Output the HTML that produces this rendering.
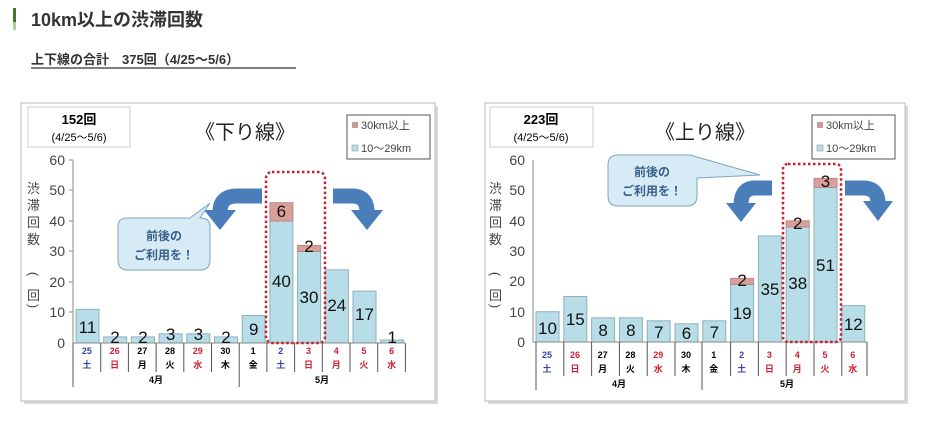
<!DOCTYPE html>
<html><head><meta charset="utf-8"><style>
body{margin:0;background:#fff;width:931px;height:427px;overflow:hidden;font-family:"Liberation Sans","Noto Sans CJK JP",sans-serif;}
</style></head><body>
<svg width="931" height="427" xmlns="http://www.w3.org/2000/svg" font-family="Liberation Sans, Noto Sans CJK JP, sans-serif">
<rect x="13" y="8" width="3" height="14" fill="#3f7a2a"/><rect x="13" y="22" width="3" height="8" fill="#a9cf95"/>
<text x="31" y="26" font-size="18" font-weight="bold" fill="#333">10km以上の渋滞回数</text>
<text x="31" y="64" font-size="13" font-weight="bold" fill="#333">上下線の合計　375回（4/25～5/6）</text>
<line x1="31" y1="68" x2="296" y2="68" stroke="#333" stroke-width="1.2"/>

<!-- LEFT CHART -->
<rect x="24" y="106" width="414" height="298" fill="#000" opacity="0.15"/>
<rect x="21" y="103" width="414" height="298" fill="#fff" stroke="#bbb"/>
<rect x="28" y="107" width="102" height="40" fill="#fff" stroke="#ccc"/>
<text x="79" y="124" font-size="13" font-weight="bold" text-anchor="middle">152回</text>
<text x="79" y="141" font-size="11" text-anchor="middle">(4/25～5/6)</text>
<text x="245" y="139" font-size="20" text-anchor="middle" fill="#222">《下り線》</text>
<rect x="347" y="115" width="83" height="44" fill="#fff" stroke="#555"/>
<rect x="352" y="122" width="6" height="6" fill="#c99"/><text x="361" y="129" font-size="11" fill="#444">30km以上</text>
<rect x="352" y="145" width="6" height="6" fill="#b7dde8" stroke="#888" stroke-width=".5"/><text x="361" y="152" font-size="11" fill="#444">10～29km</text>
<g font-size="14" fill="#444" text-anchor="end">
<text x="65" y="165">60</text><text x="65" y="195">50</text><text x="65" y="226">40</text><text x="65" y="256">30</text><text x="65" y="287">20</text><text x="65" y="317">10</text><text x="65" y="348">0</text></g>
<g font-size="13" fill="#444"><text x="27" y="193">渋</text><text x="27" y="210">滞</text><text x="27" y="227">回</text><text x="27" y="244">数</text><text x="27" y="300">回</text></g>
<text x="33" y="278" font-size="13" fill="#444" text-anchor="middle" transform="rotate(90 33 274)">(</text>
<text x="33" y="310" font-size="13" fill="#444" text-anchor="middle" transform="rotate(90 33 306)">)</text>
<line x1="73" y1="160" x2="73" y2="343" stroke="#888"/>
<g stroke="#888"><line x1="69" y1="160" x2="73" y2="160"/><line x1="69" y1="190" x2="73" y2="190"/><line x1="69" y1="221" x2="73" y2="221"/><line x1="69" y1="251" x2="73" y2="251"/><line x1="69" y1="282" x2="73" y2="282"/><line x1="69" y1="312" x2="73" y2="312"/></g>
<g fill="#b7dde8" stroke="#8fb0bb">
<rect x="76" y="309.4" width="23" height="33.6"/><rect x="103.7" y="336.9" width="23" height="6.1"/><rect x="131.4" y="336.9" width="23" height="6.1"/>
<rect x="159.1" y="333.8" width="23" height="9.2"/><rect x="186.8" y="333.8" width="23" height="9.2"/><rect x="214.5" y="336.9" width="23" height="6.1"/>
<rect x="242.2" y="315.5" width="23" height="27.5"/><rect x="269.9" y="221" width="23" height="122"/><rect x="297.6" y="251.5" width="23" height="91.5"/>
<rect x="325.3" y="269.8" width="23" height="73.2"/><rect x="353" y="291.1" width="23" height="51.9"/><rect x="380.7" y="340" width="23" height="3"/></g>
<g fill="#d9a09b" stroke="#b88"><rect x="269.9" y="202.7" width="23" height="18.3"/><rect x="297.6" y="245.4" width="23" height="6.1"/></g>
<line x1="73" y1="343" x2="405" y2="343" stroke="#888"/>
<g font-size="17" fill="#111" text-anchor="middle">
<text x="87.5" y="333">11</text><text x="115" y="343">2</text><text x="143" y="343">2</text><text x="170.6" y="340">3</text><text x="198.3" y="340">3</text><text x="226" y="343">2</text>
<text x="253.7" y="335">9</text><text x="281.4" y="217">6</text><text x="281.4" y="287">40</text><text x="309" y="252">2</text><text x="309" y="303">30</text>
<text x="336.8" y="311">24</text><text x="364.5" y="320">17</text><text x="392.2" y="343">1</text></g>
<rect x="266" y="172" width="59" height="171" rx="6" fill="none" stroke="#c8202a" stroke-width="2.5" stroke-dasharray="2.5,2.5"/>
<g fill="none" stroke="#4a7ebb" stroke-width="15"><path d="M262,196 H237 Q220,196 220,212"/><path d="M333,196 H352 Q367,196 367,212"/></g>
<g fill="#4a7ebb"><polygon points="204,210 236,210 220,230"/><polygon points="351,210 383,210 367,230"/></g>
<path d="M128,218 H190 L210,203 L200,218 Q210,218 210,226 V260 Q210,270 200,270 H128 Q118,270 118,260 V226 Q118,218 128,218 Z" fill="#d6ebf5" stroke="#7fa6bd"/>
<g font-size="12" font-weight="bold" fill="#3a5f8a" text-anchor="middle"><text x="164" y="240">前後の</text><text x="164" y="259">ご利用を！</text></g>
<g font-size="9" font-weight="bold" text-anchor="middle">
<text x="86.9" y="354" fill="#3344aa">25</text><text x="114.6" y="354" fill="#cc2233">26</text><text x="142.3" y="354">27</text><text x="170" y="354">28</text><text x="197.7" y="354" fill="#cc2233">29</text><text x="225.4" y="354">30</text>
<text x="253.1" y="354">1</text><text x="280.8" y="354" fill="#3344aa">2</text><text x="308.5" y="354" fill="#cc2233">3</text><text x="336.2" y="354" fill="#cc2233">4</text><text x="363.9" y="354" fill="#cc2233">5</text><text x="391.6" y="354" fill="#cc2233">6</text>
<text x="86.9" y="368" fill="#3344aa">土</text><text x="114.6" y="368" fill="#cc2233">日</text><text x="142.3" y="368">月</text><text x="170" y="368">火</text><text x="197.7" y="368" fill="#cc2233">水</text><text x="225.4" y="368">木</text>
<text x="253.1" y="368">金</text><text x="280.8" y="368" fill="#3344aa">土</text><text x="308.5" y="368" fill="#cc2233">日</text><text x="336.2" y="368" fill="#cc2233">月</text><text x="363.9" y="368" fill="#cc2233">火</text><text x="391.6" y="368" fill="#cc2233">水</text>
<text x="156" y="383">4月</text><text x="322" y="383">5月</text></g>
<g stroke="#555"><line x1="73" y1="343" x2="73" y2="387"/><line x1="239.2" y1="343" x2="239.2" y2="387"/>
<line x1="100.7" y1="343" x2="100.7" y2="372"/><line x1="128.4" y1="343" x2="128.4" y2="372"/><line x1="156.1" y1="343" x2="156.1" y2="372"/><line x1="183.8" y1="343" x2="183.8" y2="372"/><line x1="211.5" y1="343" x2="211.5" y2="372"/><line x1="266.9" y1="343" x2="266.9" y2="372"/><line x1="294.6" y1="343" x2="294.6" y2="372"/><line x1="322.3" y1="343" x2="322.3" y2="372"/><line x1="350" y1="343" x2="350" y2="372"/><line x1="377.7" y1="343" x2="377.7" y2="372"/><line x1="405.4" y1="343" x2="405.4" y2="372"/></g>

<!-- RIGHT CHART -->
<rect x="488" y="106" width="420" height="298" fill="#000" opacity="0.15"/>
<rect x="485" y="103" width="420" height="298" fill="#fff" stroke="#bbb"/>
<rect x="490" y="107" width="103" height="40" fill="#fff" stroke="#ccc"/>
<text x="541" y="124" font-size="13" font-weight="bold" text-anchor="middle">223回</text>
<text x="541" y="141" font-size="11" text-anchor="middle">(4/25～5/6)</text>
<text x="705" y="139" font-size="20" text-anchor="middle" fill="#222">《上り線》</text>
<rect x="812" y="115" width="83" height="44" fill="#fff" stroke="#555"/>
<rect x="817" y="122" width="6" height="6" fill="#c99"/><text x="826" y="129" font-size="11" fill="#444">30km以上</text>
<rect x="817" y="145" width="6" height="6" fill="#b7dde8" stroke="#888" stroke-width=".5"/><text x="826" y="152" font-size="11" fill="#444">10～29km</text>
<g font-size="14" fill="#444" text-anchor="end">
<text x="525" y="165">60</text><text x="525" y="195">50</text><text x="525" y="226">40</text><text x="525" y="256">30</text><text x="525" y="286">20</text><text x="525" y="317">10</text><text x="525" y="347">0</text></g>
<g font-size="13" fill="#444"><text x="489" y="193">渋</text><text x="489" y="210">滞</text><text x="489" y="227">回</text><text x="489" y="244">数</text><text x="489" y="300">回</text></g>
<text x="495" y="278" font-size="13" fill="#444" text-anchor="middle" transform="rotate(90 495 274)">(</text>
<text x="495" y="310" font-size="13" fill="#444" text-anchor="middle" transform="rotate(90 495 306)">)</text>
<line x1="533" y1="160" x2="533" y2="342" stroke="#888"/>
<g fill="#b7dde8" stroke="#8fb0bb">
<rect x="536" y="311.7" width="23" height="30.3"/><rect x="563.8" y="296.5" width="23" height="45.5"/><rect x="591.6" y="317.8" width="23" height="24.2"/>
<rect x="619.4" y="317.8" width="23" height="24.2"/><rect x="647.2" y="320.8" width="23" height="21.2"/><rect x="675" y="323.8" width="23" height="18.2"/>
<rect x="702.8" y="320.8" width="23" height="21.2"/><rect x="730.6" y="284.4" width="23" height="57.6"/><rect x="758.4" y="236" width="23" height="106"/>
<rect x="786.2" y="226.9" width="23" height="115.1"/><rect x="814" y="187.5" width="23" height="154.5"/><rect x="841.8" y="305.6" width="23" height="36.4"/></g>
<g fill="#d9a09b" stroke="#b88"><rect x="730.6" y="278.4" width="23" height="6"/><rect x="786.2" y="220.8" width="23" height="6.1"/><rect x="814" y="178.4" width="23" height="9.1"/></g>
<line x1="533" y1="342" x2="867" y2="342" stroke="#888"/>
<g font-size="17" fill="#111" text-anchor="middle">
<text x="547.5" y="334">10</text><text x="575.3" y="325">15</text><text x="603.1" y="336">8</text><text x="630.9" y="336">8</text><text x="658.7" y="338">7</text><text x="686.5" y="339">6</text>
<text x="714.3" y="338">7</text><text x="742.1" y="286">2</text><text x="742.1" y="319">19</text><text x="769.9" y="295">35</text><text x="797.7" y="229">2</text><text x="797.7" y="289">38</text>
<text x="825.5" y="187">3</text><text x="825.5" y="271">51</text><text x="853.3" y="330">12</text></g>
<rect x="783" y="164" width="58" height="178" rx="5" fill="none" stroke="#c8202a" stroke-width="2.5" stroke-dasharray="2.5,2.5"/>
<g fill="none" stroke="#4a7ebb" stroke-width="15"><path d="M772,188 H755 Q741,188 741,205"/><path d="M845,188 H863 Q878,188 878,203"/></g>
<g fill="#4a7ebb"><polygon points="726,203 756,203 741,222"/><polygon points="863,201 893,201 878,221"/></g>
<path d="M618,155 H690 L760,175 L697,178 V196 Q697,206 687,206 H618 Q608,206 608,196 V165 Q608,155 618,155 Z" fill="#d6ebf5" stroke="#7fa6bd"/>
<g font-size="12" font-weight="bold" fill="#3a5f8a" text-anchor="middle"><text x="652" y="176">前後の</text><text x="652" y="195">ご利用を！</text></g>
<g font-size="9" font-weight="bold" text-anchor="middle">
<text x="547" y="358" fill="#3344aa">25</text><text x="575" y="358" fill="#cc2233">26</text><text x="602.6" y="358">27</text><text x="630.4" y="358">28</text><text x="658.2" y="358" fill="#cc2233">29</text><text x="686" y="358">30</text>
<text x="713.8" y="358">1</text><text x="741.6" y="358" fill="#3344aa">2</text><text x="769.4" y="358" fill="#cc2233">3</text><text x="797.2" y="358" fill="#cc2233">4</text><text x="825" y="358" fill="#cc2233">5</text><text x="852.8" y="358" fill="#cc2233">6</text>
<text x="547" y="372" fill="#3344aa">土</text><text x="575" y="372" fill="#cc2233">日</text><text x="602.6" y="372">月</text><text x="630.4" y="372">火</text><text x="658.2" y="372" fill="#cc2233">水</text><text x="686" y="372">木</text>
<text x="713.8" y="372">金</text><text x="741.6" y="372" fill="#3344aa">土</text><text x="769.4" y="372" fill="#cc2233">日</text><text x="797.2" y="372" fill="#cc2233">月</text><text x="825" y="372" fill="#cc2233">火</text><text x="852.8" y="372" fill="#cc2233">水</text>
<text x="619" y="387">4月</text><text x="787" y="387">5月</text></g>
<g stroke="#555"><line x1="536" y1="342" x2="536" y2="390"/><line x1="702" y1="342" x2="702" y2="390"/>
<line x1="563.8" y1="342" x2="563.8" y2="376"/><line x1="591.6" y1="342" x2="591.6" y2="376"/><line x1="619.4" y1="342" x2="619.4" y2="376"/><line x1="647.2" y1="342" x2="647.2" y2="376"/><line x1="675" y1="342" x2="675" y2="376"/><line x1="730.6" y1="342" x2="730.6" y2="376"/><line x1="758.4" y1="342" x2="758.4" y2="376"/><line x1="786.2" y1="342" x2="786.2" y2="376"/><line x1="814" y1="342" x2="814" y2="376"/><line x1="841.8" y1="342" x2="841.8" y2="376"/><line x1="867" y1="342" x2="867" y2="376"/></g>
</svg>
</body></html>
